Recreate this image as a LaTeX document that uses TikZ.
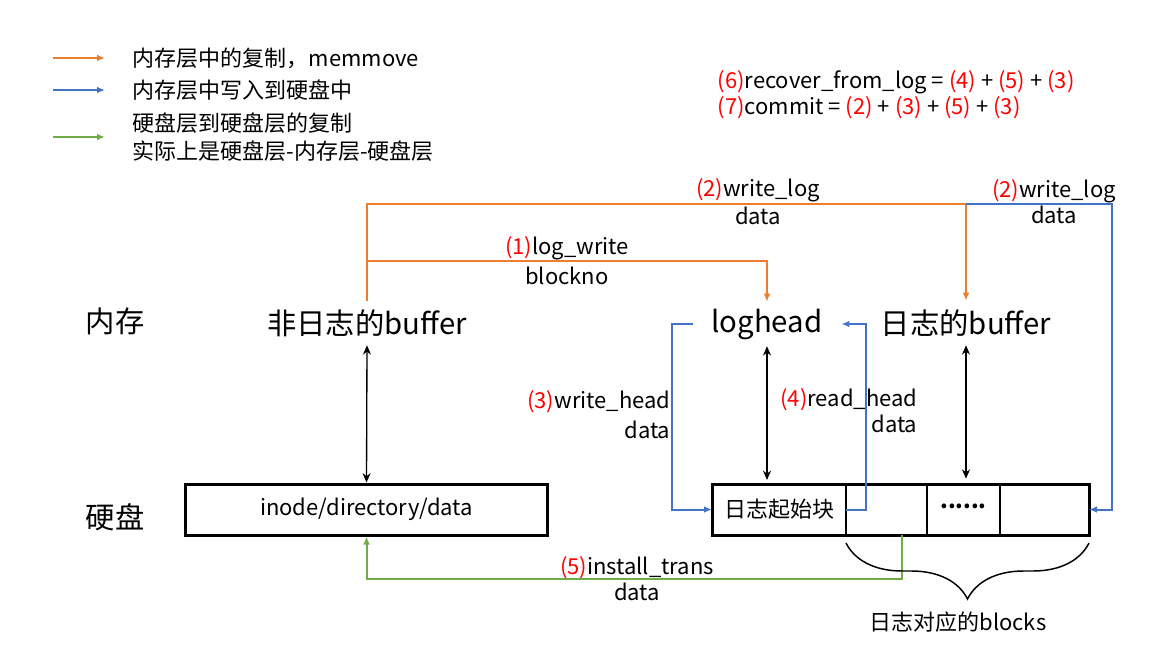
\documentclass[tikz,border=0pt]{standalone}
\usepackage{fontspec}
\setmainfont{Noto Sans CJK SC}
\usetikzlibrary{arrows.meta,decorations.pathreplacing}
\definecolor{copyorange}{HTML}{ED7D31}
\definecolor{writeblue}{HTML}{4472C4}
\definecolor{diskgreen}{HTML}{70AD47}
\newcommand{\stepnum}[1]{\textcolor{red}{#1}}

\begin{document}
\begin{tikzpicture}[x=0.75pt,y=-0.75pt,
	big/.style={font=\fontsize{22}{26}\selectfont},
	small/.style={font=\fontsize{16.5}{21}\selectfont},
	membuf/.style={big, minimum height=33pt},
	cell/.style={draw, line width=1pt, minimum height=38.25pt, inner sep=0pt, outer sep=0pt, small},
	orangeline/.style={copyorange, line width=1.5pt, -{Latex[length=6pt,width=5pt]}},
	blueline/.style={writeblue, line width=1.5pt, -{Latex[length=6pt,width=5pt]}},
	greenline/.style={diskgreen, line width=1.5pt, -{Latex[length=6pt,width=5pt]}},
	blackarrow/.style={draw, black, line width=1pt, {Stealth[length=7pt,width=6pt]}-{Stealth[length=7pt,width=6pt]}},
	bracestyle/.style={draw, line width=1.1pt, decorate, decoration={brace, amplitude=42pt}}
]
			\useasboundingbox (0,0) rectangle (1174,657);
			
			% legend
			\coordinate (lo1) at (53,58);
			\coordinate (lo2) at (105,58);
			\coordinate (lb1) at (53,90);
			\coordinate (lb2) at (105,90);
			\coordinate (lg1) at (53,137);
			\coordinate (lg2) at (105,137);
			\node	(lego) at (128,58) [small, anchor=west] {内存层中的复制，memmove};
			\node	(legb) at (128,90) [small, anchor=west] {内存层中写入到硬盘中};
			\node	(legg) at (128,137) [small, anchor=west, align=left] {硬盘层到硬盘层的复制\\实际上是硬盘层-内存层-硬盘层};
			\draw[orangeline] (lo1) -- (lo2);
			\draw[blueline] (lb1) -- (lb2);
			\draw[greenline] (lg1) -- (lg2);
			
			\node	(recover) at (713,82) [small, anchor=west] {\stepnum{(6)}recover\_from\_log = \stepnum{(4)} + \stepnum{(5)} + \stepnum{(3)}};
			\node	(commit) at (713,108) [small, anchor=west] {\stepnum{(7)}commit = \stepnum{(2)} + \stepnum{(3)} + \stepnum{(5)} + \stepnum{(3)}};
			
			% layers
			\node	(mem) at (115,321) [big] {内存};
			\node	(disk) at (115,517) [big] {硬盘};
			
			\node	(nbuf) at (367,323) [membuf] {非日志的buffer};
			\node	(lhead) at (767,324) [membuf, inner xsep=14pt] {loghead};
			\node	(lbuf) at (966,323) [membuf] {日志的buffer};
			
			\node	(inode) at (366.5,509.5) [draw, line width=2.25pt, minimum width=272pt, minimum height=38.25pt, small] {inode/directory/data};
			\node	(c1) at (779,509.5) [cell, minimum width=100.5pt] {日志起始块};
			\node	(c2) at (886.5,509.5) [cell, minimum width=60.75pt] {};
			\node	(c3) at (963.5,509.5) [cell, minimum width=54.75pt] {\raisebox{0.32em}{\bfseries......}};
			\node	(c4) at (1044.5,509.5) [cell, minimum width=66.75pt] {};
			\draw[line width=2.25pt] (c1.north west) rectangle (c4.south east);
			
			\draw 
			(nbuf.south) edge[blackarrow] (inode.north) 
			(lhead.south) edge[blackarrow, shorten >=3pt] (lhead.south |- c1.north)
			(lbuf.south) edge[blackarrow, shorten >=4pt] (lbuf.south |- c3.north)
			;
			
			% memmove
			\coordinate (toprow) at (367,204);
			\coordinate (midrow) at (367,261);
			\draw[orangeline] (nbuf.north) -- (toprow) -| (lbuf.north);
			\draw[orangeline] (midrow) -| (lhead.north);
			
			% write to disk
			\draw[blueline] (lbuf.north |- toprow) -- ++(146,0) |- (c4.east);
			\draw[blueline] (lhead.west) -- ++(-21,0) |- (c1.west);
			\draw[blueline] (c1.east) -- ++(20,0) |- (lhead.east);
			
			% disk to disk
			\draw[greenline] ([xshift=11.25pt]c2.south) -- ++(0,44) -| (inode.south);
			
			\draw[bracestyle] ([yshift=-6pt]c4.south east) -- ([yshift=-6pt]c2.south west);
			\node	(blocks) at (958,622) [small] {日志对应的blocks};
			
			% labels
			\node	(wlog) at (758,201.5) [small, align=center, font=\fontsize{16.5}{21.5}\selectfont] {\stepnum{(2)}write\_log\\data};
			\node	(lwrite) at (567,261) [small, align=center, font=\fontsize{16.5}{22.5}\selectfont] {\stepnum{(1)}log\_write\\blockno};
			\node	(wlog2) at (1054,201.5) [small, align=center, font=\fontsize{16.5}{20}\selectfont] {\stepnum{(2)}write\_log\\data};
			\node	(whead) at (675,415) [small, anchor=east, align=right, font=\fontsize{16.5}{22.5}\selectfont] {\stepnum{(3)}write\_head\\data};
			\node	(rhead) at (922,410.5) [small, anchor=east, align=right, font=\fontsize{16.5}{20}\selectfont] {\stepnum{(4)}read\_head\\data};
			\node	(itrans) at (637,579) [small, align=center, font=\fontsize{16.5}{19.5}\selectfont] {\stepnum{(5)}install\_trans\\data};
		\end{tikzpicture}
\end{document}
